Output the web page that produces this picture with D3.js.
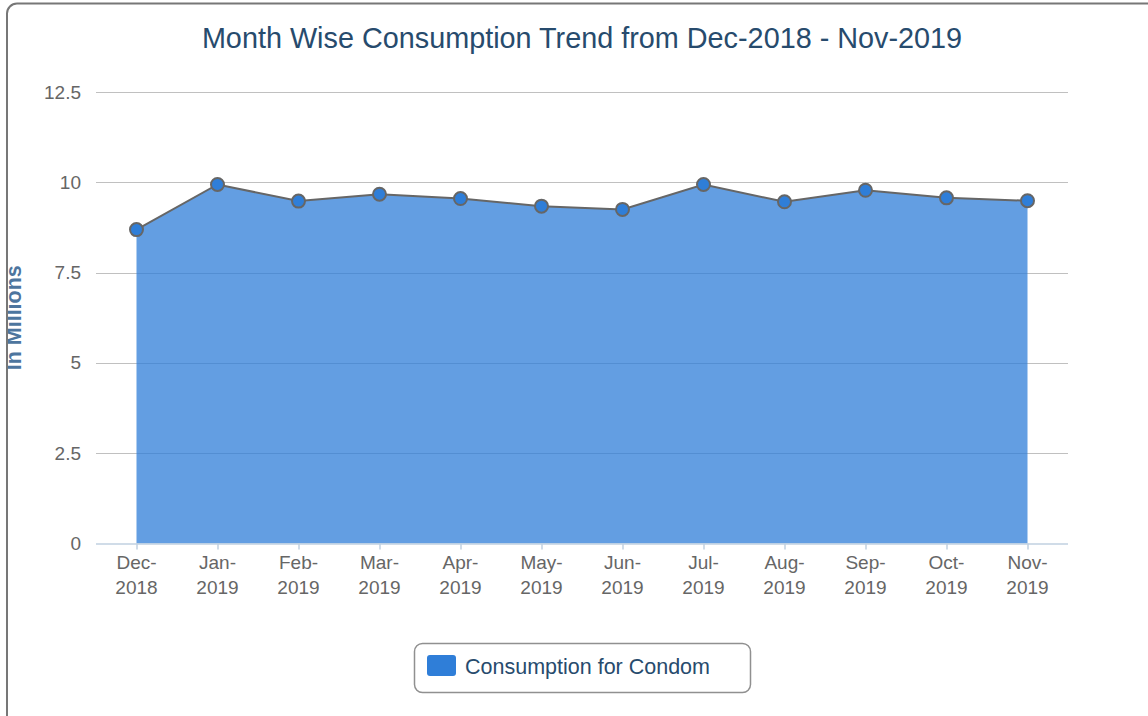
<!DOCTYPE html>
<html>
<head>
<meta charset="utf-8">
<script src="https://cdn.jsdelivr.net/npm/d3@7"></script>
<style>
  html, body { margin: 0; padding: 0; background: #fff; }
  svg { display: block; font-family: "Liberation Sans", Arial, sans-serif; }
</style>
</head>
<body>
<svg id="chart" width="1148" height="716"></svg>
<script>
const months = ["Dec-2018","Jan-2019","Feb-2019","Mar-2019","Apr-2019","May-2019","Jun-2019","Jul-2019","Aug-2019","Sep-2019","Oct-2019","Nov-2019"];
const consumption = [8.69, 9.94, 9.48, 9.67, 9.55, 9.34, 9.25, 9.94, 9.46, 9.78, 9.57, 9.49];
const yTicks = [0, 2.5, 5, 7.5, 10, 12.5];
const seriesName = "Consumption for Condom";
const titleText = "Month Wise Consumption Trend from Dec-2018 - Nov-2019";
const yTitle = "In Millions";

const svg = d3.select("#chart");
const plot = { left: 96, right: 1068, top: 92, bottom: 543.5 };

const x = d3.scalePoint().domain(months).range([plot.left, plot.right]).padding(0.5);
const y = d3.scaleLinear().domain([0, 12.5]).range([plot.bottom, plot.top]);

// container border
svg.append("rect")
  .attr("x", 7).attr("y", 3.5).attr("width", 1160).attr("height", 740)
  .attr("rx", 10).attr("fill", "#fff").attr("stroke", "#777").attr("stroke-width", 2);

// title
svg.append("text")
  .attr("x", (plot.left + plot.right) / 2).attr("y", 48)
  .attr("text-anchor", "middle").attr("font-size", 28.8).attr("fill", "#274b6d")
  .text(titleText);

// gridlines
svg.append("g").selectAll("line").data(yTicks.filter(d => d > 0)).join("line")
  .attr("x1", plot.left).attr("x2", plot.right)
  .attr("y1", d => Math.round(y(d)) + 0.5).attr("y2", d => Math.round(y(d)) + 0.5)
  .attr("stroke", "#c0c0c0").attr("stroke-width", 1);

// y axis labels
const yAxis = d3.axisLeft(y).tickValues(yTicks).tickSize(0).tickPadding(0).tickFormat(d3.format("~g"));
const gy = svg.append("g").attr("transform", "translate(81,0)").call(yAxis);
gy.select(".domain").remove();
gy.selectAll("text").attr("font-size", 19).attr("fill", "#666").attr("font-family", "Liberation Sans, Arial, sans-serif");

// y title (clipped by container)
svg.append("clipPath").attr("id", "leftclip").append("rect").attr("x", 8).attr("y", 0).attr("width", 200).attr("height", 716);
svg.append("g").attr("clip-path", "url(#leftclip)")
  .append("text")
  .attr("transform", `translate(21,${(plot.top + plot.bottom) / 2}) rotate(-90)`)
  .attr("text-anchor", "middle").attr("font-size", 21.5).attr("font-weight", "bold").attr("fill", "#4d759e")
  .text(yTitle);

// area
const area = d3.area().x((d, i) => x(months[i])).y0(y(0)).y1(d => y(d));
svg.append("path").datum(consumption)
  .attr("d", area).attr("fill", "#2f7ed8").attr("fill-opacity", 0.75);

// x axis
const xAxis = d3.axisBottom(x).tickSize(6).tickFormat("");
const gx = svg.append("g").attr("transform", `translate(0,${plot.bottom})`).call(xAxis);
gx.select(".domain").attr("d", `M${plot.left},0.5H${plot.right}`).attr("stroke", "#c0d0e0").attr("stroke-width", 1.5);
gx.selectAll(".tick line").attr("stroke", "#c0d0e0").attr("stroke-width", 1.5);

const xl = svg.append("g").selectAll("text").data(months).join("text")
  .attr("x", d => x(d)).attr("y", 568.5)
  .attr("text-anchor", "middle").attr("font-size", 19).attr("fill", "#666");
xl.append("tspan").attr("x", d => x(d)).text(d => d.split("-")[0] + "-");
xl.append("tspan").attr("x", d => x(d)).attr("dy", 25).text(d => d.split("-")[1]);

// line
const line = d3.line().x((d, i) => x(months[i])).y(d => y(d));
svg.append("path").datum(consumption)
  .attr("d", line).attr("fill", "none").attr("stroke", "#666").attr("stroke-width", 2);

// markers
svg.append("g").selectAll("circle").data(consumption).join("circle")
  .attr("cx", (d, i) => x(months[i])).attr("cy", d => y(d)).attr("r", 6.5)
  .attr("fill", "#2f7ed8").attr("stroke", "#666").attr("stroke-width", 2);

// legend
const lg = svg.append("g");
lg.append("rect").attr("x", 414.5).attr("y", 643.5).attr("width", 336).attr("height", 49)
  .attr("rx", 8).attr("fill", "#fff").attr("stroke", "#909090").attr("stroke-width", 1.5);
lg.append("rect").attr("x", 427).attr("y", 655).attr("width", 29).attr("height", 21)
  .attr("rx", 3).attr("fill", "#2f7ed8");
lg.append("text").attr("x", 465).attr("y", 673.5).attr("font-size", 21.5).attr("fill", "#274b6d").text(seriesName);
</script>
</body>
</html>
